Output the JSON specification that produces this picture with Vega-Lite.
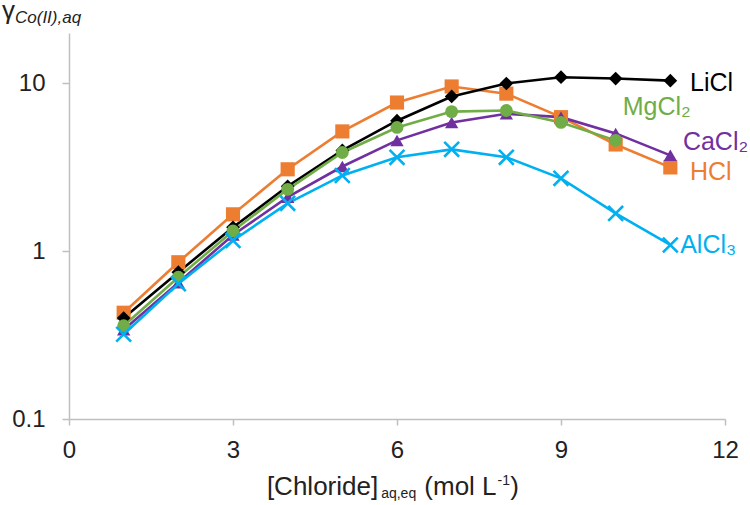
{
  "$schema": "https://vega.github.io/schema/vega-lite/v6.json",
  "width": 656,
  "height": 386,
  "autosize": {"type": "none"},
  "padding": {"left": 69, "top": 33, "right": 25, "bottom": 86},
  "background": "white",
  "config": {"view": {"stroke": null}, "font": "Liberation Sans"},
  "datasets": {
    "series": [
      {"series": "HCl", "x": 1, "y": 0.43}, {"series": "HCl", "x": 2, "y": 0.86}, {"series": "HCl", "x": 3, "y": 1.66},
      {"series": "HCl", "x": 4, "y": 3.08}, {"series": "HCl", "x": 5, "y": 5.18}, {"series": "HCl", "x": 6, "y": 7.7},
      {"series": "HCl", "x": 7, "y": 9.6}, {"series": "HCl", "x": 8, "y": 8.7}, {"series": "HCl", "x": 9, "y": 6.3},
      {"series": "HCl", "x": 10, "y": 4.33}, {"series": "HCl", "x": 11, "y": 3.16},
      {"series": "LiCl", "x": 1, "y": 0.40}, {"series": "LiCl", "x": 2, "y": 0.75}, {"series": "LiCl", "x": 3, "y": 1.39},
      {"series": "LiCl", "x": 4, "y": 2.44}, {"series": "LiCl", "x": 5, "y": 3.99}, {"series": "LiCl", "x": 6, "y": 6.0},
      {"series": "LiCl", "x": 7, "y": 8.37}, {"series": "LiCl", "x": 8, "y": 10.0}, {"series": "LiCl", "x": 9, "y": 10.9},
      {"series": "LiCl", "x": 10, "y": 10.7}, {"series": "LiCl", "x": 11, "y": 10.4},
      {"series": "CaCl2", "x": 1, "y": 0.34}, {"series": "CaCl2", "x": 2, "y": 0.65}, {"series": "CaCl2", "x": 3, "y": 1.25},
      {"series": "CaCl2", "x": 4, "y": 2.10}, {"series": "CaCl2", "x": 5, "y": 3.20}, {"series": "CaCl2", "x": 6, "y": 4.58},
      {"series": "CaCl2", "x": 7, "y": 5.86}, {"series": "CaCl2", "x": 8, "y": 6.6}, {"series": "CaCl2", "x": 9, "y": 6.3},
      {"series": "CaCl2", "x": 10, "y": 5.04}, {"series": "CaCl2", "x": 11, "y": 3.73},
      {"series": "MgCl2", "x": 1, "y": 0.36}, {"series": "MgCl2", "x": 2, "y": 0.70}, {"series": "MgCl2", "x": 3, "y": 1.32},
      {"series": "MgCl2", "x": 4, "y": 2.34}, {"series": "MgCl2", "x": 5, "y": 3.88}, {"series": "MgCl2", "x": 6, "y": 5.47},
      {"series": "MgCl2", "x": 7, "y": 6.8}, {"series": "MgCl2", "x": 8, "y": 6.9}, {"series": "MgCl2", "x": 9, "y": 5.86},
      {"series": "MgCl2", "x": 10, "y": 4.58},
      {"series": "AlCl3", "x": 1, "y": 0.32}, {"series": "AlCl3", "x": 2, "y": 0.64}, {"series": "AlCl3", "x": 3, "y": 1.16},
      {"series": "AlCl3", "x": 4, "y": 1.93}, {"series": "AlCl3", "x": 5, "y": 2.83}, {"series": "AlCl3", "x": 6, "y": 3.63},
      {"series": "AlCl3", "x": 7, "y": 4.05}, {"series": "AlCl3", "x": 8, "y": 3.63}, {"series": "AlCl3", "x": 9, "y": 2.72},
      {"series": "AlCl3", "x": 10, "y": 1.68}, {"series": "AlCl3", "x": 11, "y": 1.09}
    ],
    "labels": [
      {"series": "LiCl", "label": "LiCl", "x": 11.36, "y": 10.0},
      {"series": "MgCl2", "label": "MgCl₂", "x": 10.13, "y": 7.2},
      {"series": "CaCl2", "label": "CaCl₂", "x": 11.23, "y": 4.48},
      {"series": "HCl", "label": "HCl", "x": 11.36, "y": 2.95},
      {"series": "AlCl3", "label": "AlCl₃", "x": 11.18, "y": 1.09}
    ]
  },
  "layer": [
    {
      "data": {"name": "series"},
      "mark": {"type": "line", "strokeWidth": 2.6},
      "encoding": {
        "x": {
          "field": "x", "type": "quantitative",
          "scale": {"domain": [0, 12], "nice": false, "zero": false},
          "axis": {
            "values": [0, 3, 6, 9, 12], "format": "d", "title": null, "grid": false,
            "domainColor": "#bfbfbf", "domainWidth": 1.5, "tickColor": "#bfbfbf", "tickWidth": 1.5,
            "tickSize": 6, "labelPadding": 13, "labelFontSize": 24, "labelColor": "#222222",
            "labelFont": "Liberation Sans", "labelFlush": false, "labelOverlap": false, "labelBound": false
          }
        },
        "y": {
          "field": "y", "type": "quantitative",
          "scale": {"type": "log", "domain": [0.1, 20], "nice": false},
          "axis": {
            "values": [0.1, 1, 10], "format": "~g", "title": null, "grid": false,
            "domainColor": "#bfbfbf", "domainWidth": 1.5, "tickColor": "#bfbfbf", "tickWidth": 1.5,
            "tickSize": 7, "labelPadding": 17, "labelFontSize": 24, "labelColor": "#222222",
            "labelFont": "Liberation Sans", "labelFlush": false, "labelOverlap": false, "labelBound": false
          }
        },
        "color": {
          "field": "series", "type": "nominal",
          "scale": {"domain": ["HCl", "LiCl", "CaCl2", "MgCl2", "AlCl3"], "range": ["#ED7D31", "#000000", "#7030A0", "#70AD47", "#00B0F0"]},
          "legend": null
        }
      }
    },
    {
      "data": {"name": "series"},
      "transform": [{"filter": "datum.series !== 'AlCl3'"}],
      "mark": {"type": "point", "filled": true, "opacity": 1},
      "encoding": {
        "x": {"field": "x", "type": "quantitative"},
        "y": {"field": "y", "type": "quantitative"},
        "color": {"field": "series", "type": "nominal", "legend": null},
        "shape": {
          "field": "series", "type": "nominal",
          "scale": {"domain": ["HCl", "LiCl", "CaCl2", "MgCl2"], "range": ["square", "diamond", "triangle-up", "circle"]},
          "legend": null
        },
        "size": {
          "field": "series", "type": "nominal",
          "scale": {"domain": ["HCl", "LiCl", "CaCl2", "MgCl2"], "range": [200, 165, 220, 215]},
          "legend": null
        }
      }
    },
    {
      "data": {"name": "series"},
      "transform": [{"filter": "datum.series === 'AlCl3'"}],
      "mark": {"type": "point", "filled": false, "shape": "M-1,-1L1,1M-1,1L1,-1", "size": 220, "strokeWidth": 2.6, "opacity": 1},
      "encoding": {
        "x": {"field": "x", "type": "quantitative"},
        "y": {"field": "y", "type": "quantitative"},
        "color": {"field": "series", "type": "nominal", "legend": null}
      }
    },
    {
      "data": {"name": "labels"},
      "mark": {"type": "text", "align": "left", "baseline": "middle", "fontSize": 25, "font": "Liberation Sans"},
      "encoding": {
        "x": {"field": "x", "type": "quantitative"},
        "y": {"field": "y", "type": "quantitative"},
        "text": {"field": "label"},
        "color": {"field": "series", "type": "nominal", "legend": null}
      }
    },
    {
      "data": {"values": [{}]},
      "mark": {"type": "text", "align": "left", "baseline": "alphabetic", "fontSize": 26, "dy": 76, "color": "#222222", "font": "Liberation Sans"},
      "encoding": {
        "x": {"datum": 3.62, "type": "quantitative"},
        "y": {"datum": 0.1, "type": "quantitative"},
        "text": {"value": "[Chloride]"}
      }
    },
    {
      "data": {"values": [{}]},
      "mark": {"type": "text", "align": "left", "baseline": "alphabetic", "fontSize": 14, "dy": 79, "color": "#222222", "font": "Liberation Sans"},
      "encoding": {
        "x": {"datum": 5.71, "type": "quantitative"},
        "y": {"datum": 0.1, "type": "quantitative"},
        "text": {"value": "aq,eq"}
      }
    },
    {
      "data": {"values": [{}]},
      "mark": {"type": "text", "align": "left", "baseline": "alphabetic", "fontSize": 26, "dy": 76, "color": "#222222", "font": "Liberation Sans"},
      "encoding": {
        "x": {"datum": 6.5, "type": "quantitative"},
        "y": {"datum": 0.1, "type": "quantitative"},
        "text": {"value": "(mol L"}
      }
    },
    {
      "data": {"values": [{}]},
      "mark": {"type": "text", "align": "left", "baseline": "alphabetic", "fontSize": 14, "dy": 66, "color": "#222222", "font": "Liberation Sans"},
      "encoding": {
        "x": {"datum": 7.84, "type": "quantitative"},
        "y": {"datum": 0.1, "type": "quantitative"},
        "text": {"value": "-1"}
      }
    },
    {
      "data": {"values": [{}]},
      "mark": {"type": "text", "align": "left", "baseline": "alphabetic", "fontSize": 26, "dy": 76, "color": "#222222", "font": "Liberation Sans"},
      "encoding": {
        "x": {"datum": 8.07, "type": "quantitative"},
        "y": {"datum": 0.1, "type": "quantitative"},
        "text": {"value": ")"}
      }
    },
    {
      "data": {"values": [{}]},
      "mark": {"type": "text", "align": "left", "baseline": "alphabetic", "fontSize": 26, "dx": -67, "dy": -14, "color": "#222222", "font": "Liberation Sans"},
      "encoding": {
        "x": {"datum": 0, "type": "quantitative"},
        "y": {"datum": 20, "type": "quantitative"},
        "text": {"value": "γ"}
      }
    },
    {
      "data": {"values": [{}]},
      "mark": {"type": "text", "align": "left", "baseline": "alphabetic", "fontSize": 17, "fontStyle": "italic", "dx": -54, "dy": -10, "color": "#222222", "font": "Liberation Sans"},
      "encoding": {
        "x": {"datum": 0, "type": "quantitative"},
        "y": {"datum": 20, "type": "quantitative"},
        "text": {"value": "Co(II),aq"}
      }
    }
  ]
}
